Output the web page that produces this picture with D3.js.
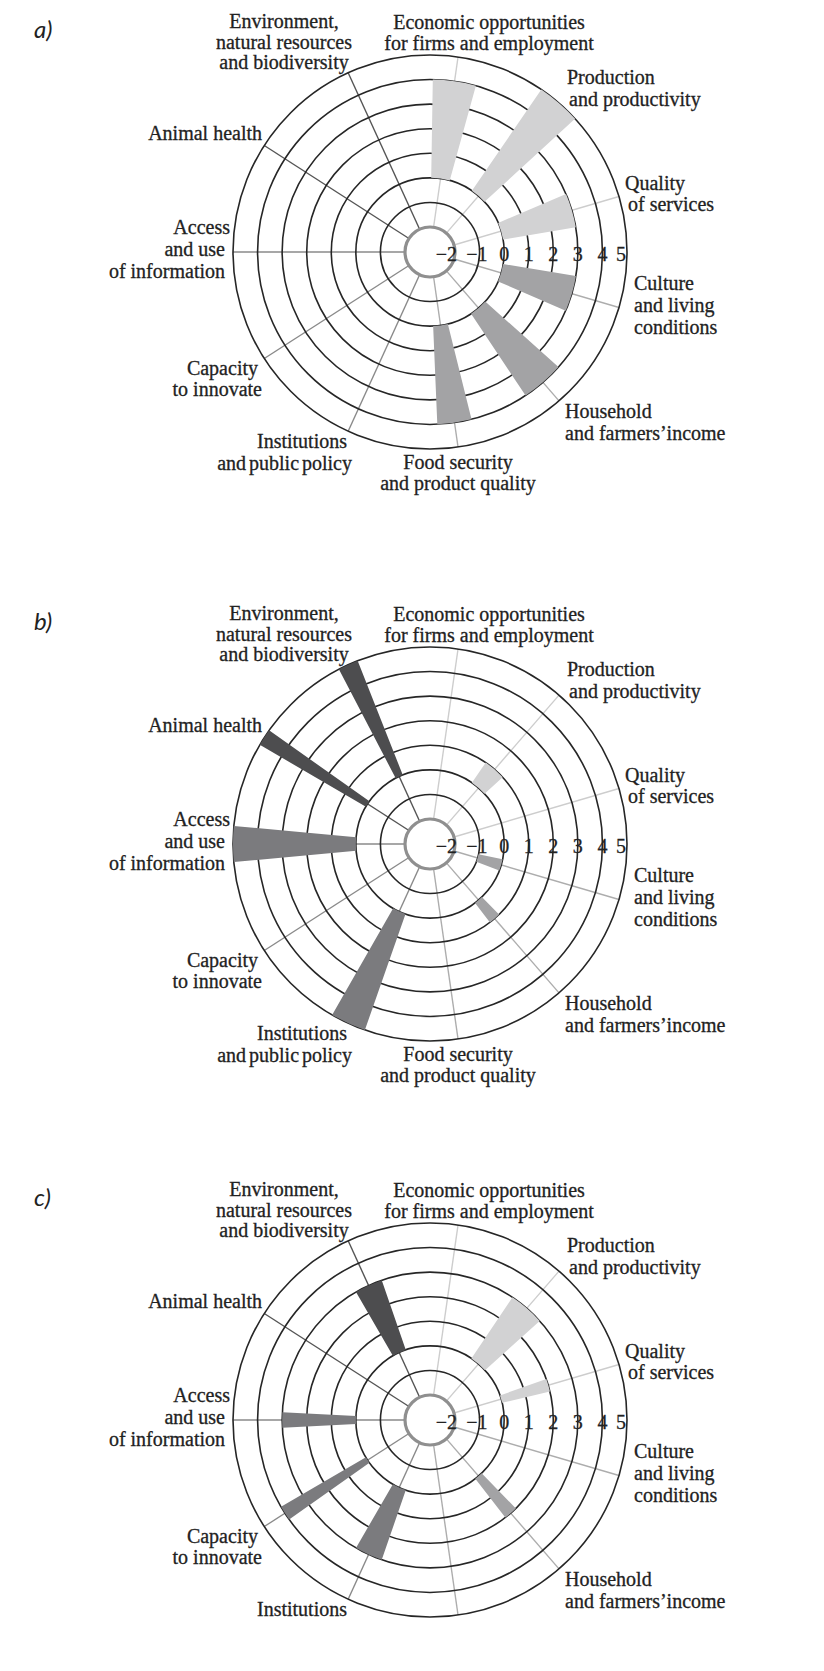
<!DOCTYPE html>
<html>
<head>
<meta charset="utf-8">
<script src="https://cdn.jsdelivr.net/npm/d3@7"></script>
<style>
  body { margin: 0; background: #fff; }
  svg text { font-family: "Liberation Serif", "Times New Roman", serif; fill: #222; }
  .label { stroke: #222; stroke-width: 0.3; }
  .panel-label { font-family: Lato, "Open Sans", sans-serif; font-style: italic; fill: #222; }
</style>
</head>
<body>
<svg id="chart" width="824" height="1671"></svg>
<script>
// categories, clockwise starting just right of 12 o'clock
const categories = [
  "Economic opportunities for firms and employment",
  "Production and productivity",
  "Quality of services",
  "Culture and living conditions",
  "Household and farmers'income",
  "Food security and product quality",
  "Institutions and public policy",
  "Capacity to innovate",
  "Access and use of information",
  "Animal health",
  "Environment, natural resources and biodiversity"
];
const groups = ["economic", "economic", "economic", "social", "social", "social",
  "institutional", "institutional", "institutional", "environmental", "environmental"];
const ticks = [-2, -1, 0, 1, 2, 3, 4, 5];
const panelNames = ["a)", "b)", "c)"];

// bar values (score) and bar angular widths (degrees)
const valuesA = [4, 5, 3, 3, 4, 4, 0, 0, 0, 0, 0];
const widthsA = [14.5, 13, 13.5, 14, 14.5, 11.5, 0, 0, 0, 0, 0];
const valuesB = [0, 1, 0, -1, 1, 0, 5, 0, 5, 5, 5];
const widthsB = [0, 13, 0, 9, 7, 0, 10.5, 0, 10.5, 5, 6];
const valuesC = [0, 3, 2, 0, 2, 0, 3, 4, 3, 0, 3];
const widthsC = [0, 14, 6, 0, 6.5, 0, 11, 5, 6, 0, 11];

const labelLinesAB = [
  ["Economic opportunities", "for firms and employment"],
  ["Production", "and productivity"],
  ["Quality", "of services"],
  ["Culture", "and living", "conditions"],
  ["Household", "and farmers\u2019income"],
  ["Food security", "and product quality"],
  ["Institutions", "and public policy"],
  ["Capacity", "to innovate"],
  ["Access", "and use", "of information"],
  ["Animal health"],
  ["Environment,", "natural resources", "and biodiversity"]
];
const labelLinesC = labelLinesAB.map((l, i) => i === 6 ? ["Institutions"] : i === 5 ? [] : l);

// label placement relative to chart centre
const labelPos = [
  { anchor: "middle", dx: [59, 59], dy: [-230, -209] },
  { anchor: "start", dx: [137, 139], dy: [-175, -153] },
  { anchor: "start", dx: [195, 198], dy: [-69, -48] },
  { anchor: "start", dx: [204, 204, 204], dy: [31, 53, 75] },
  { anchor: "start", dx: [135, 135], dy: [159, 181] },
  { anchor: "middle", dx: [28, 28], dy: [210, 231] },
  { anchor: "end", dx: [-83, -78], dy: [189, 211], ws: -2 },
  { anchor: "end", dx: [-172, -168], dy: [116, 137] },
  { anchor: "end", dx: [-200, -205, -205], dy: [-25, -3, 19] },
  { anchor: "end", dx: [-168], dy: [-119] },
  { anchor: "middle", dx: [-146, -146, -146], dy: [-231, -210, -190] }
];

const barColor = { economic: "#d2d2d3", social: "#a3a3a5", institutional: "#7b7b7e", environmental: "#4d4d4f" };
const spokeColor = { economic: "#cdcdcd", social: "#adadad", institutional: "#8a8a8a", environmental: "#555" };

const panels = [
  { name: panelNames[0], cy: 252, values: valuesA, widths: widthsA, lines: labelLinesAB },
  { name: panelNames[1], cy: 844, values: valuesB, widths: widthsB, lines: labelLinesAB },
  { name: panelNames[2], cy: 1420, values: valuesC, widths: widthsC, lines: labelLinesC }
];

const svg = d3.select("#chart");
const cx = 430;

const r = d3.scaleLinear().domain([ticks[0], ticks[ticks.length - 1]]).range([25, 197]);
const angle = d3.scaleLinear().domain([0, categories.length])
  .range([Math.PI / 22, Math.PI / 22 + 2 * Math.PI]);
const rad = d => d * Math.PI / 180;

panels.forEach(p => {
  const g = svg.append("g").attr("transform", "translate(" + cx + "," + p.cy + ")");

  svg.append("text").attr("class", "panel-label")
    .attr("x", 34).attr("y", p.cy - 214)
    .attr("font-size", 24).text(p.name);

  // spokes
  g.selectAll("line.spoke").data(categories).enter().append("line")
    .attr("class", "spoke")
    .attr("x1", (d, i) => Math.sin(angle(i)) * r(ticks[0]))
    .attr("y1", (d, i) => -Math.cos(angle(i)) * r(ticks[0]))
    .attr("x2", (d, i) => Math.sin(angle(i)) * r(ticks[ticks.length - 1]))
    .attr("y2", (d, i) => -Math.cos(angle(i)) * r(ticks[ticks.length - 1]))
    .attr("stroke", (d, i) => spokeColor[groups[i]])
    .attr("stroke-width", 1.4);

  // rings
  g.selectAll("circle.ring").data(ticks.slice(1)).enter().append("circle")
    .attr("class", "ring")
    .attr("r", d => r(d))
    .attr("fill", "none")
    .attr("stroke", "#262626")
    .attr("stroke-width", 1.6);

  // bars
  const arc = d3.arc()
    .innerRadius(r(0))
    .outerRadius(d => r(d.v))
    .startAngle(d => angle(d.i) - rad(d.w) / 2)
    .endAngle(d => angle(d.i) + rad(d.w) / 2);

  const bars = p.values.map((v, i) => ({ v: v, w: p.widths[i], i: i })).filter(d => d.v !== 0);
  g.selectAll("path.bar").data(bars).enter().append("path")
    .attr("class", "bar")
    .attr("d", arc)
    .attr("fill", d => barColor[groups[d.i]]);

  // ring for -2
  g.append("circle")
    .attr("r", r(ticks[0]))
    .attr("fill", "#fff")
    .attr("stroke", "#8f8f8f")
    .attr("stroke-width", 3.2);

  // tick labels along the right horizontal radius
  g.selectAll("text.tick").data(ticks).enter().append("text")
    .attr("class", "tick label")
    .attr("x", (d, i) => r(d) + (i === 0 ? 2 : i === 1 ? 8 : i === ticks.length - 1 ? -1 : 5))
    .attr("y", 1.5)
    .attr("dy", "0.35em")
    .attr("text-anchor", "end")
    .attr("font-size", 20)
    .text(d => d < 0 ? "\u2212" + Math.abs(d) : d);

  // category labels
  p.lines.forEach((lines, i) => {
    const pos = labelPos[i];
    lines.forEach((line, k) => {
      g.append("text")
        .attr("class", "label")
        .attr("x", pos.dx[k])
        .attr("y", pos.dy[k])
        .attr("dy", "0.35em")
        .attr("text-anchor", pos.anchor)
        .attr("font-size", 20)
        .attr("word-spacing", pos.ws && k === 1 ? pos.ws : null)
        .text(line);
    });
  });
});
</script>
</body>
</html>
